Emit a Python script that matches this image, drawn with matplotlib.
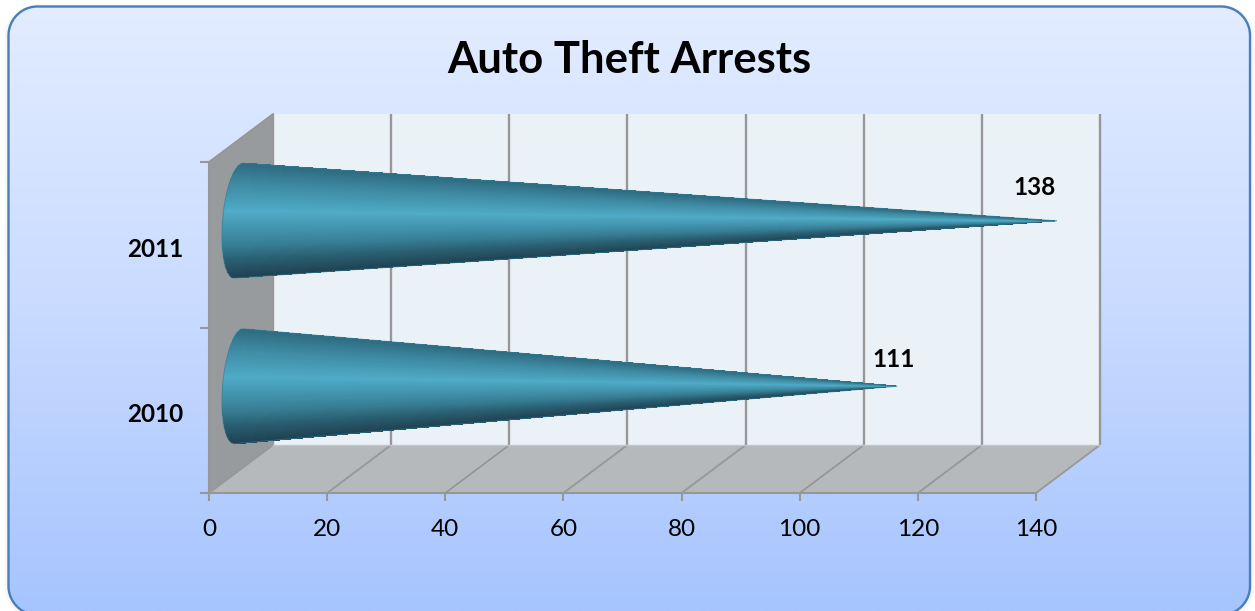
import numpy as np
import matplotlib
matplotlib.use("Agg")
import matplotlib.pyplot as plt
from matplotlib.patches import Polygon
from matplotlib.colors import LinearSegmentedColormap
from matplotlib.transforms import ScaledTranslation

plt.rcParams['font.family'] = ['Lato', 'DejaVu Sans']

title = "Auto Theft Arrests"
years = ["2010", "2011"]
arrests = [111, 138]
x_ticks = [0, 20, 40, 60, 80, 100, 120, 140]

W, H = 1255, 611
fig = plt.figure(figsize=(W / 100, H / 100), dpi=100, facecolor="white")


def rounded_outline(x0, y0, x1, y1, r, n=40):
    t = np.linspace(0, np.pi / 2, n)
    pts = []
    for (cx, cy, start) in [(x1 - r, y1 - r, 0), (x0 + r, y1 - r, np.pi / 2),
                            (x0 + r, y0 + r, np.pi), (x1 - r, y0 + r, 3 * np.pi / 2)]:
        pts.append(np.c_[cx + r * np.cos(t + start), cy + r * np.sin(t + start)])
    return np.vstack(pts)


# ---- panel background (pixel coordinates)
bg = fig.add_axes([0, 0, 1, 1], zorder=0)
bg.set_axis_off()
bg.set_xlim(0, W)
bg.set_ylim(H, 0)
bg.add_patch(Polygon(rounded_outline(6, 6, 1253, 617, 31), closed=True, fc="#eeeeee", ec="#f6f6f6", lw=2))
outline = rounded_outline(8.5, 6.5, 1250, 615, 29)
panel = Polygon(outline, closed=True, fc="none", ec="none")
bg.add_patch(panel)
grad = np.linspace(0, 1, 256)[:, None]
cm_bg = LinearSegmentedColormap.from_list("bg", ["#E3EDFF", "#C9DBFF", "#A6C4FE"])
im = bg.imshow(grad, extent=(0, W, H, 0), cmap=cm_bg, aspect="auto", zorder=1)
im.set_clip_path(panel)
bg.add_patch(Polygon(outline, closed=True, fc="none", ec="#4A7EBB", lw=1.7, zorder=2))
bg.set_xlim(0, W)
bg.set_ylim(H, 0)
bg.text(629, 60, title, ha="center", va="center", fontsize=31.4, fontweight="bold", color="black", zorder=3)

# ---- chart axes: the front plane of the 3-D box
ax = fig.add_axes([209 / W, 1 - 493 / H, (1036 - 209) / W, (493 - 162) / H], zorder=1)
ax.patch.set_visible(False)
ax.set_xlim(0, 140)
ax.set_ylim(0, 2)
xmax, ymax = 140, 2
DX = 64 / 5.907   # depth offset in x units
DY = 48 / 165.5   # depth offset in category units
GRID = "#979797"

ax.add_patch(Polygon([(DX, DY), (xmax + DX, DY), (xmax + DX, ymax + DY), (DX, ymax + DY)],
                     fc="#EAF2F8", ec="none", clip_on=False, zorder=1))
ax.add_patch(Polygon([(0, 0), (DX, DY), (DX, ymax + DY), (0, ymax)],
                     fc="#989B9D", ec="none", clip_on=False, zorder=1))
ax.add_patch(Polygon([(0, 0), (xmax, 0), (xmax + DX, DY), (DX, DY)],
                     fc="#B5B9BB", ec="none", clip_on=False, zorder=1))
for v in x_ticks:
    ax.plot([v + DX, v + DX], [DY, ymax + DY], color=GRID, lw=1.7, clip_on=False, zorder=2,
            solid_capstyle="butt")
    ax.plot([v, v + DX], [0, DY], color=GRID, lw=1.3, clip_on=False, zorder=2)
ax.plot([DX, xmax + DX], [DY, DY], color="#C4C7C9", lw=1.0, clip_on=False, zorder=2)
ax.plot([0, DX], [ymax, ymax + DY], color=GRID, lw=1.3, clip_on=False, zorder=2)

# ---- cones
cm_cone = LinearSegmentedColormap.from_list("cone", [
    (0.00, "#2E6C81"), (0.17, "#3E8AA3"), (0.41, "#4FABC6"), (0.61, "#3F8EA8"),
    (0.72, "#367C92"), (0.84, "#2A5F72"), (1.00, "#1F4150")])
theta = np.linspace(-np.pi / 2, np.pi / 2, 401)
s = np.sin(theta)
a_x, b_x, r_y = 16 / 5.907, 4.5 / 5.907, 57.5 / 165.5
for i, val in enumerate(arrests):
    c = i + 0.5
    cx = DX / 2 - 2.5 / 5.907
    cy = c + DY / 2
    base_x = cx - a_x * np.cos(theta) + b_x * s
    base_y = cy + r_y * s
    tip_x = val + DX / 2
    tip_y = cy
    X = np.vstack([base_x, np.full_like(base_x, tip_x)])
    Y = np.vstack([base_y, np.full_like(base_y, tip_y)])
    mid = (s[:-1] + s[1:]) / 2
    C = ((1 - mid) / 2)[None, :]
    m = ax.pcolormesh(X, Y, C, shading="flat", cmap=cm_cone, vmin=0, vmax=1, zorder=3,
                      antialiased=False, linewidth=0)
    m.set_clip_on(False)
    ox = np.r_[tip_x, base_x, tip_x]
    oy = np.r_[tip_y, base_y, tip_y]
    ax.plot(ox, oy, color="#2F7F97", lw=0.7, alpha=0.65, clip_on=False, zorder=4)

# ---- value labels
ax.annotate(str(arrests[1]), (arrests[1] + DX / 2, 1.5 + DY / 2), xytext=(-22 * .72, 33 * .72),
            textcoords="offset points", ha="center", va="center",
            fontsize=17.5, fontweight="bold", zorder=5, annotation_clip=False)
ax.annotate(str(arrests[0]), (arrests[0] + DX / 2, 0.5 + DY / 2), xytext=(-3 * .72, 27 * .72),
            textcoords="offset points", ha="center", va="center",
            fontsize=17.5, fontweight="bold", zorder=5, annotation_clip=False)

# ---- axes
for sp in ("top", "right"):
    ax.spines[sp].set_visible(False)
for sp in ("left", "bottom"):
    ax.spines[sp].set_color(GRID)
    ax.spines[sp].set_linewidth(1.5)
ax.set_xticks(x_ticks)
ax.set_xticklabels([str(v) for v in x_ticks])
ax.set_yticks([0, 1, 2])
ax.set_yticklabels([])
ax.set_yticks([0.5, 1.5], minor=True)
ax.set_yticklabels(years, minor=True, fontweight="bold", fontsize=17.5)
ax.tick_params(axis="x", length=6, width=1.5, color=GRID, pad=13, labelsize=17.5)
ax.tick_params(axis="y", which="major", length=6.5, width=1.5, color=GRID)
ax.tick_params(axis="y", which="minor", length=0, pad=18.5)
for t in ax.get_yticklabels(minor=True):
    t.set_transform(t.get_transform() + ScaledTranslation(0, -2.5 / 100, fig.dpi_scale_trans))

fig.savefig("out.png", dpi=100, facecolor="white")
